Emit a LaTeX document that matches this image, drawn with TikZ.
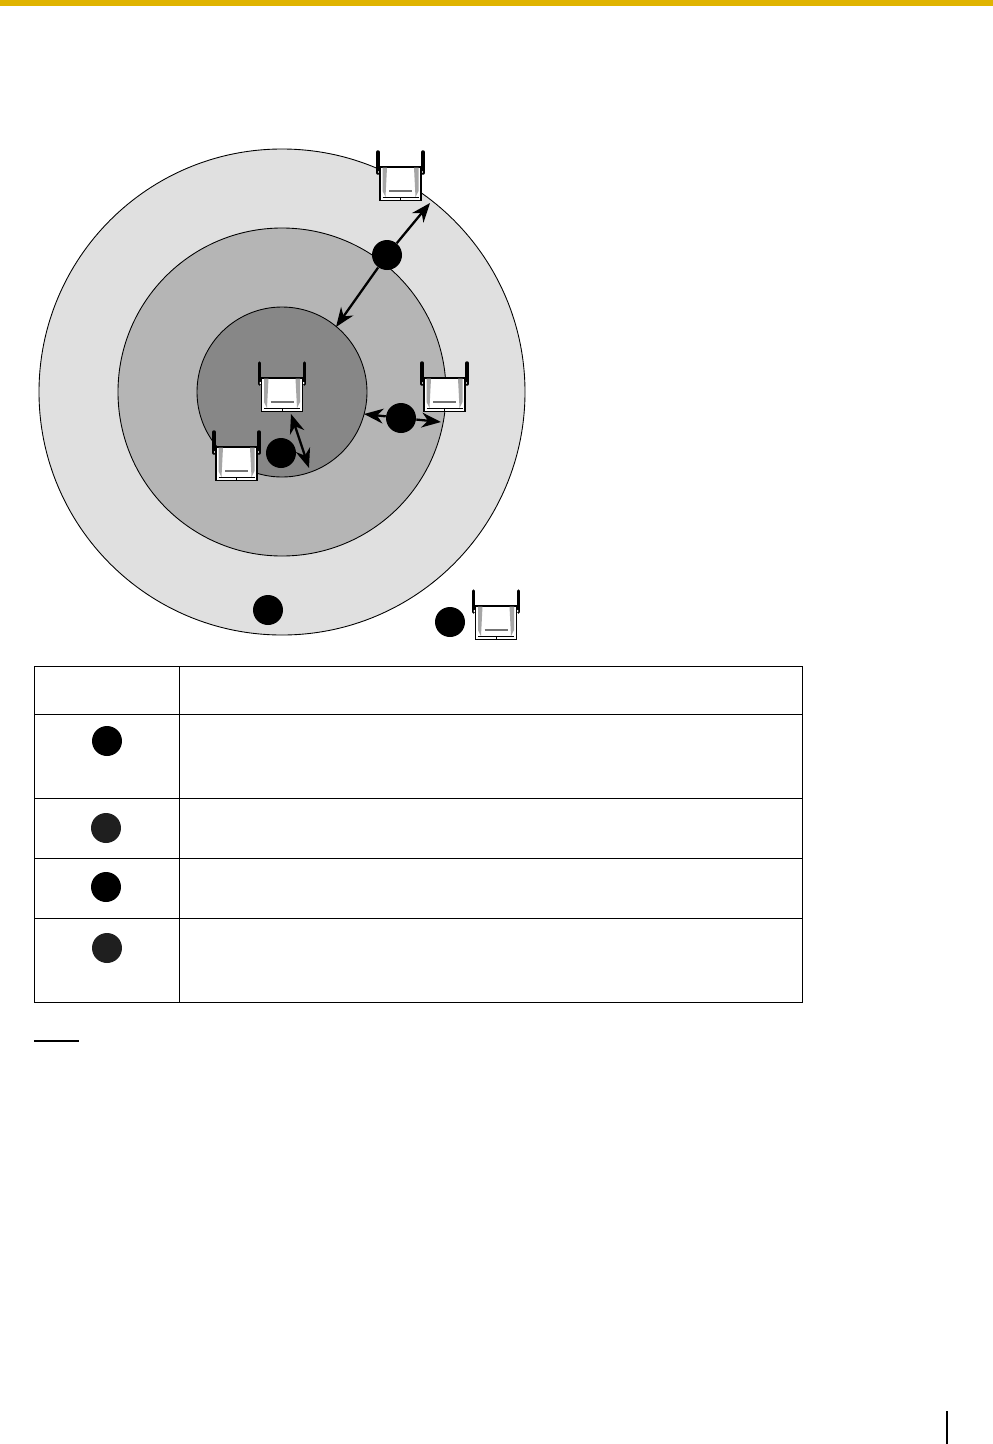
\documentclass[tikz,border=0pt]{standalone}
\usetikzlibrary{arrows.meta}
\definecolor{barGold}{HTML}{E0B400}
\begin{document}
\begin{tikzpicture}[
  x=0.02cm, y=-0.02cm,
  zone/.style = {draw=black, line width=0.5pt},
  bubble/.style = {circle, fill=black, minimum size=0.6cm, inner sep=0pt},
  softbubble/.style = {bubble, fill=black!88},
  bothways/.style = {line width=1.3pt, {Stealth[length=11pt,width=8.5pt]}-{Stealth[length=11pt,width=8.5pt]}},
  oneway/.style = {line width=1.3pt, -{Stealth[length=11pt,width=8.5pt]}},
  rowrule/.style = {line width=0.45pt},
  unit/.pic = {
    \draw[line width=2pt, line cap=round] (-22.5,-15) -- (-22.5,6);
    \draw[line width=2pt, line cap=round] (22.5,-15) -- (22.5,6);
    \fill[white] (-21.5,5) circle (1.2);
    \fill[white] (21.5,5) circle (1.2);
    \draw[fill=white, line width=0.9pt] (-20.5,0) rectangle (20.5,33.5);
    \fill[black!35] (-18,0.5) -- (-13.5,0.5) -- (-15,30) -- (-18,24) -- cycle;
    \fill[black!35] (18,0.5) -- (13.5,0.5) -- (15,30) -- (18,24) -- cycle;
    \draw[line width=0.5pt] (-18,30) -- (18,30);
    \draw[line width=0.5pt] (0,30) -- (0,33.5);
    \draw[black!55, line width=0.6pt] (-11.5,24) -- (11.5,24);
  }
]
  \useasboundingbox (0,0) rectangle (993,1444);
  % top bar
  \fill[barGold] (0,0) rectangle (993,6);
  % zones
  \draw[zone, fill=black!12] (282,392) circle (243);
  \draw[zone, fill=black!29] (282,392) circle (164);
  \draw[zone, fill=black!47] (282,392) circle (85);
  % units
  \pic at (400.5,167) {unit};
  \pic at (282,378) {unit};
  \pic at (444.5,378) {unit};
  \pic at (236.5,447) {unit};
  \pic at (496,606) {unit};
  % bubbles in the picture
  \node[bubble] (bubbleA) at (387,255) {};
  \node[bubble] (bubbleB) at (401,418) {};
  \node[bubble] (bubbleC) at (281,453) {};
  \node[bubble] (bubbleD) at (268,610) {};
  \node[bubble] (bubbleE) at (450,622) {};
  % arrow ends
  \coordinate (outerEnd) at (430,203);
  \coordinate (innerEnd) at (336,327);
  \coordinate (midLeft) at (364,414);
  \coordinate (midRight) at (441,422);
  \coordinate (coreTop) at (291,414);
  \coordinate (coreBottom) at (309,468);
  \draw[oneway] (bubbleA) -- (outerEnd);
  \draw[oneway] (bubbleA) -- (innerEnd);
  \draw[oneway] (bubbleB) -- (midLeft);
  \draw[oneway] (bubbleB) -- (midRight);
  \draw[bothways] (coreTop) -- (coreBottom);
  % table
  \draw[rowrule] (34,666) rectangle (802,1002);
  \draw[rowrule] (179,666) -- (179,1002);
  \foreach \rowy in {714,798,858,918}
    \draw[rowrule] (34,\rowy) -- (802,\rowy);
  \node[bubble] (rowA) at (107,741) {};
  \node[softbubble] (rowB) at (106,828) {};
  \node[bubble] (rowC) at (106,887) {};
  \node[softbubble] (rowD) at (107,948) {};
  % note rule and page rule
  \draw[line width=0.8pt] (34,1041) -- (79,1041);
  \draw[line width=0.8pt] (947,1411) -- (947,1444);
\end{tikzpicture}
\end{document}
